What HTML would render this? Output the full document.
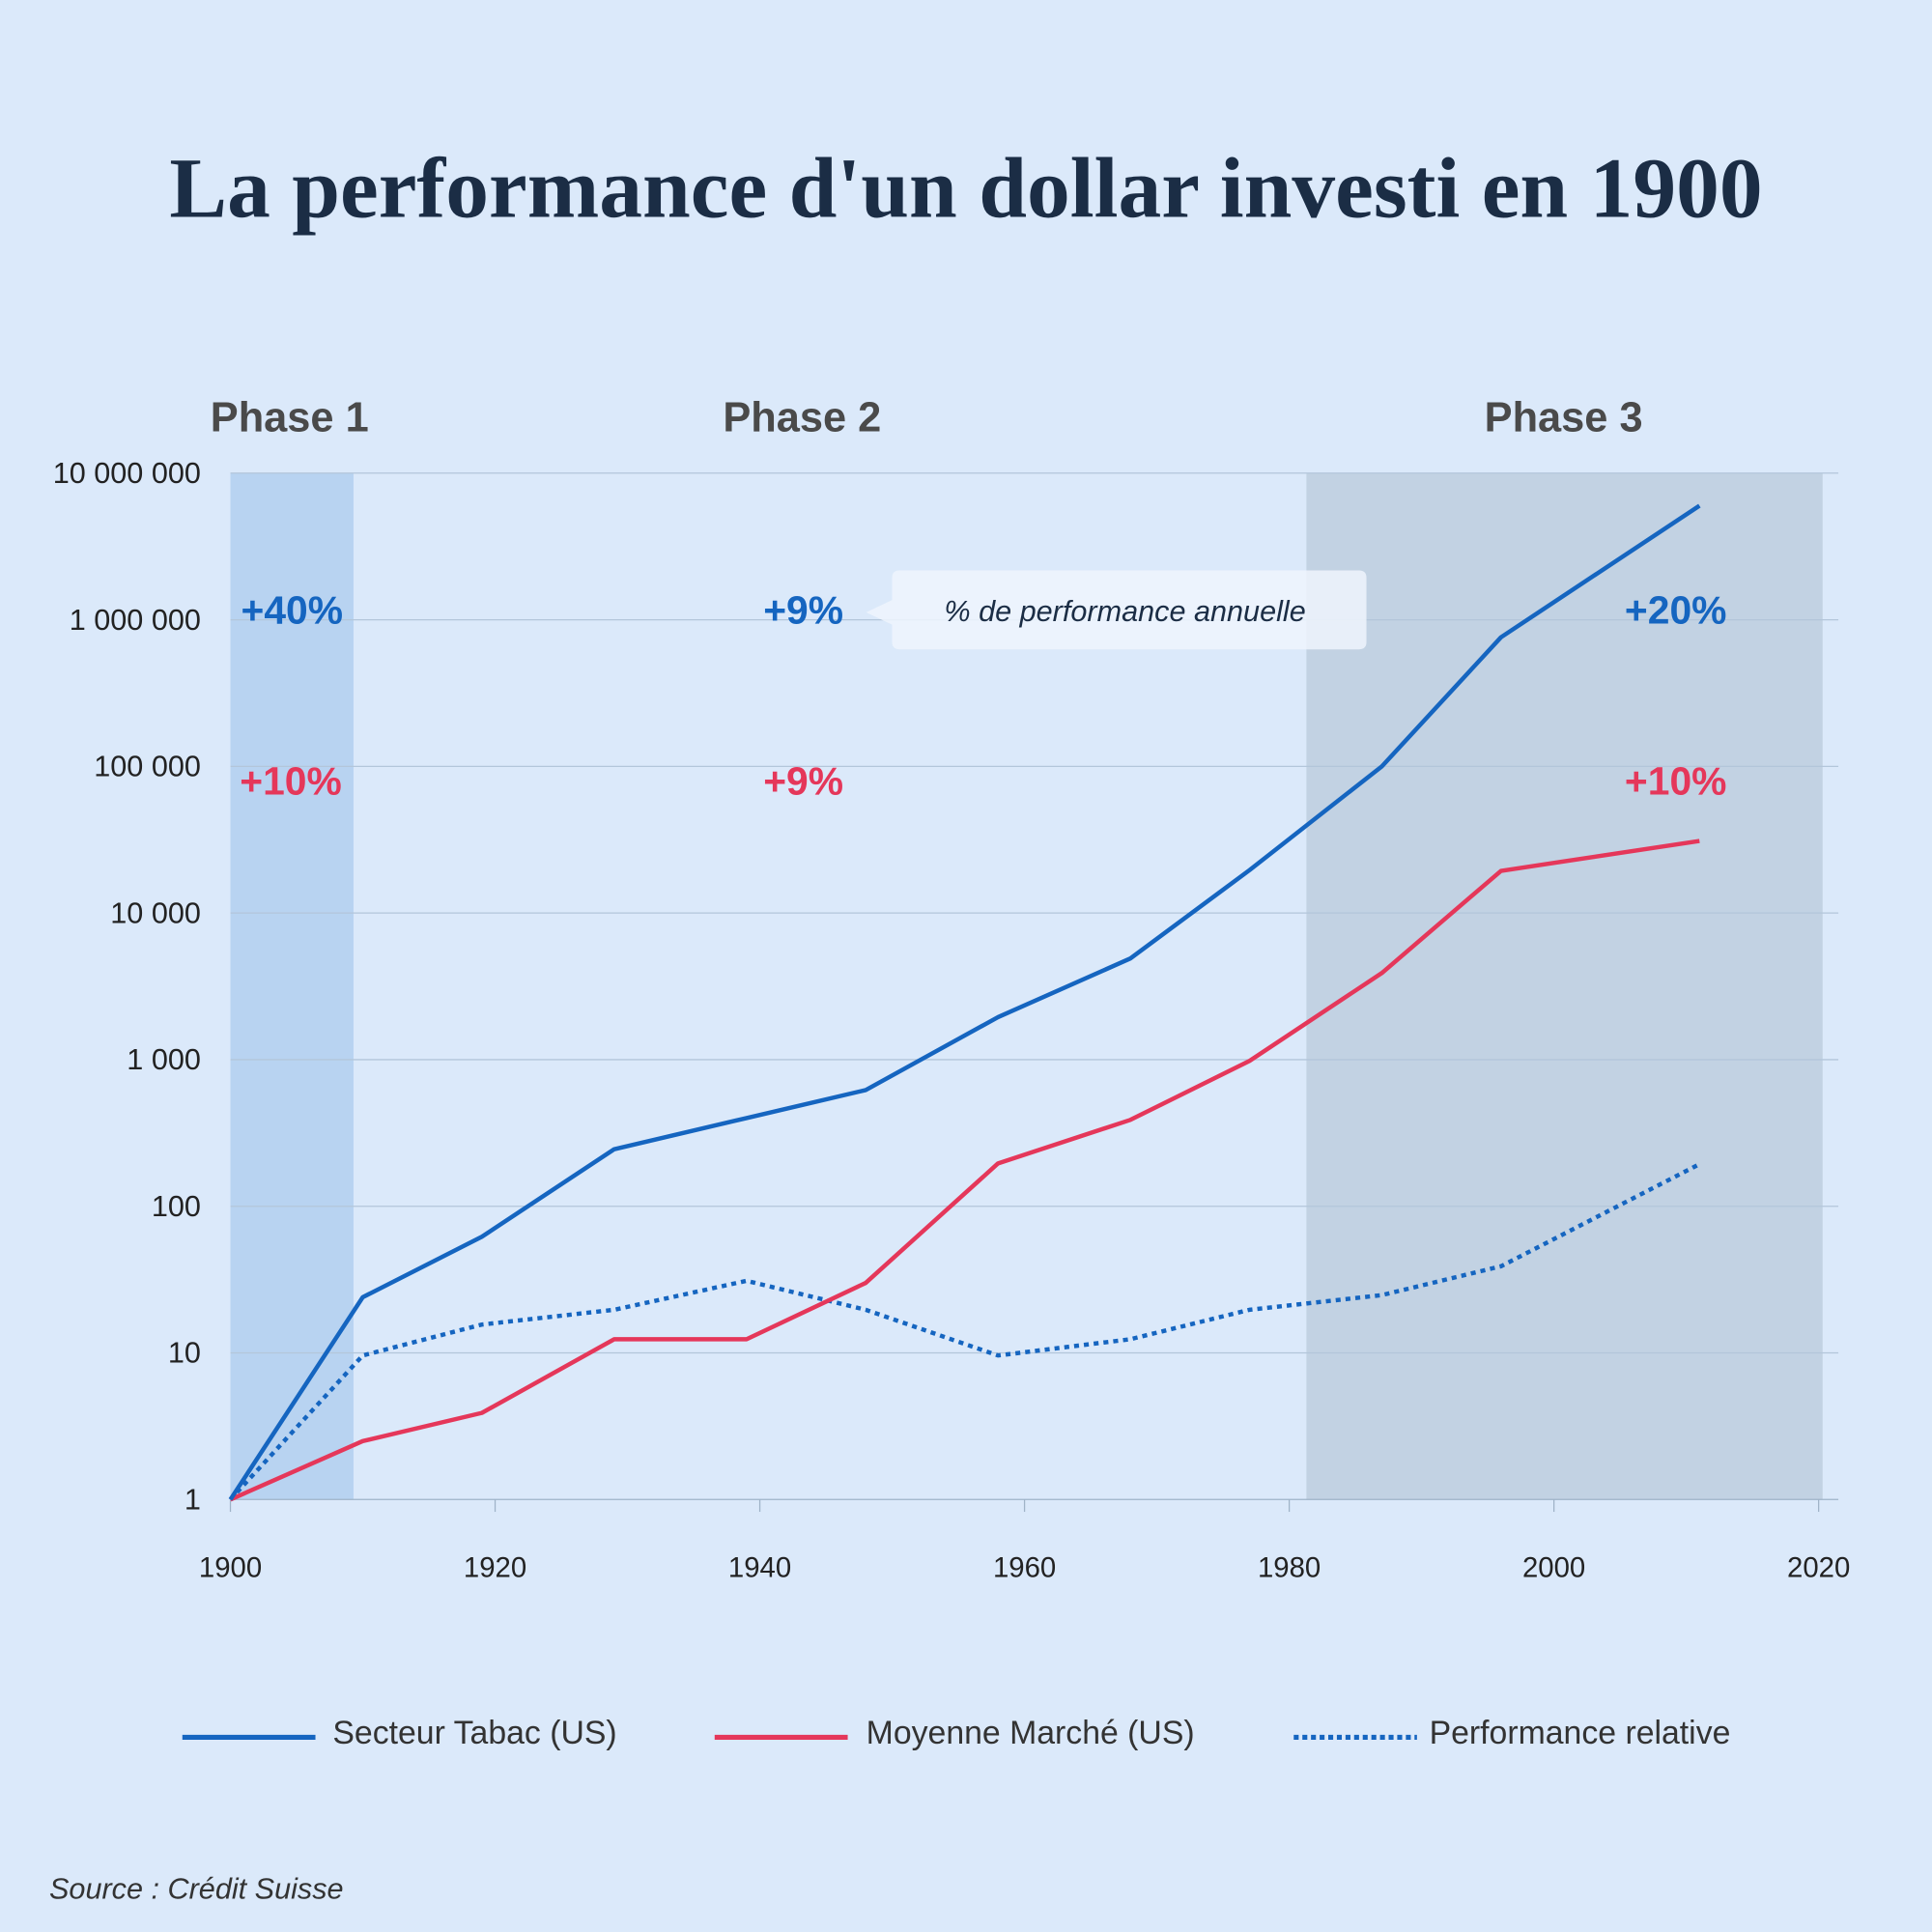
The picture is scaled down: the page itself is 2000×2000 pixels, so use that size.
<!DOCTYPE html>
<html><head><meta charset="utf-8"><style>
html,body{margin:0;padding:0;background:#dbe9fa;}
svg{display:block;font-family:"Liberation Sans",sans-serif;}
</style></head><body>
<svg id="chart" width="2000" height="2000" viewBox="0 0 1568 1568" xmlns="http://www.w3.org/2000/svg">
<rect width="1568" height="1568" fill="#dbe9fa"/>
<text x="784" y="176" text-anchor="middle" font-family="Liberation Serif, serif" font-weight="bold" font-size="70" fill="#1b2d45" textLength="1293" lengthAdjust="spacingAndGlyphs">La performance d'un dollar investi en 1900</text>
<g id="plot"></g>
<text x="235" y="350" text-anchor="middle" font-size="34" font-weight="bold" fill="#4a4a4a">Phase 1</text>
<text x="651" y="350" text-anchor="middle" font-size="34" font-weight="bold" fill="#4a4a4a">Phase 2</text>
<text x="1269" y="350" text-anchor="middle" font-size="34" font-weight="bold" fill="#4a4a4a">Phase 3</text>
<g font-size="32" font-weight="bold">
<text x="237" y="506" text-anchor="middle" fill="#1565c0">+40%</text>
<text x="652" y="506" text-anchor="middle" fill="#1565c0">+9%</text>
<text x="1360" y="506" text-anchor="middle" fill="#1565c0">+20%</text>
<text x="236" y="645" text-anchor="middle" fill="#e5375a">+10%</text>
<text x="652" y="645" text-anchor="middle" fill="#e5375a">+9%</text>
<text x="1360" y="645" text-anchor="middle" fill="#e5375a">+10%</text>
</g>
<g>
<path d="M730 463 H1103 Q1109 463 1109 469 V521 Q1109 527 1103 527 H730 Q724 527 724 521 V507 L703 497 L724 487 V469 Q724 463 730 463 Z" fill="#eef5fd" fill-opacity="0.85"/>
<text x="913" y="504" text-anchor="middle" font-size="24" font-style="italic" fill="#1b2d45">% de performance annuelle</text>
</g>
<g>
<line x1="148" y1="1410" x2="256" y2="1410" stroke="#1565c0" stroke-width="4"/>
<text x="270" y="1408" font-size="26.5" fill="#333" dominant-baseline="middle">Secteur Tabac (US)</text>
<line x1="580" y1="1410" x2="688" y2="1410" stroke="#e5375a" stroke-width="4"/>
<text x="703" y="1408" font-size="26.5" fill="#333" dominant-baseline="middle">Moyenne Marché (US)</text>
<line x1="1050" y1="1410" x2="1150" y2="1410" stroke="#1565c0" stroke-width="4" stroke-dasharray="4 3"/>
<text x="1160" y="1408" font-size="26.5" fill="#333" dominant-baseline="middle">Performance relative</text>
</g>
<text x="40" y="1541" font-size="24" font-style="italic" fill="#333">Source : Crédit Suisse</text>
</svg>
<script>
const years = [1900,1910,1919,1929,1939,1948,1958,1968,1977,1987,1996,2011];
const tabac = [1,24,62,245,400,620,1950,4900,19600,100000,760000,6000000];
const market = [1,2.5,3.9,12.4,12.4,30,196,388,980,3900,19400,31000];
const relative = [1,9.6,15.6,19.7,31,19.7,9.6,12.4,19.7,24.8,39,194];
const yTickValues = [1,10,100,1000,10000,100000,1000000,10000000];
const yTickLabels = ["1","10","100","1 000","10 000","100 000","1 000 000","10 000 000"];
const xTickValues = [1900,1920,1940,1960,1980,2000,2020];
const phases = [[1900,1909.3,"#b8d3f1"],[1981.3,2020.3,"#c2d2e3"]];

const NS="http://www.w3.org/2000/svg";
const X0=187,X1=1476,Y0=1217,Y1=384;
const xs=y=>X0+(y-1900)/120*(X1-X0);
const ys=v=>Y0-Math.log10(v)/7*(Y0-Y1);
const plot=document.getElementById('plot');
function mk(tag,attrs){const e=document.createElementNS(NS,tag);for(const k in attrs)e.setAttribute(k,attrs[k]);plot.appendChild(e);return e;}

phases.forEach((p,i)=>{
  const r=mk('rect',{x:xs(p[0]),y:Y1,width:xs(p[1])-xs(p[0]),height:Y0-Y1,fill:p[2]});
  
  
});
yTickValues.forEach((v,i)=>{
  const l=mk('line',{x1:X0,x2:1492,y1:ys(v),y2:ys(v),stroke:i===0?'#9fb3c8':'#b3c6da','stroke-width':1});
  
  
  const t=mk('text',{x:163,y:ys(v)+8,'text-anchor':'end','font-size':24,fill:'#222'});
  t.textContent=yTickLabels[i];
  
  
});
xTickValues.forEach(v=>{
  const l=mk('line',{x1:xs(v),x2:xs(v),y1:Y0,y2:Y0+10,stroke:'#9fb3c8','stroke-width':1});
  
  
  const t=mk('text',{x:xs(v),y:1280,'text-anchor':'middle','font-size':23,fill:'#222'});
  t.textContent=v;
  
  
});
function series(vals,color,dash,name){
  const pts=years.map((y,i)=>xs(y).toFixed(1)+','+ys(vals[i]).toFixed(1)).join(' ');
  const a={points:pts,fill:'none',stroke:color,'stroke-width':3.5,'stroke-linejoin':'round'};
  if(dash)a['stroke-dasharray']=dash;
  const p=mk('polyline',a);
  
  
}
series(relative,'#1565c0','4 4','relative-performance-line');
series(market,'#e5375a',null,'market-average-line');
series(tabac,'#1565c0',null,'tobacco-sector-line');
</script>
</body></html>
